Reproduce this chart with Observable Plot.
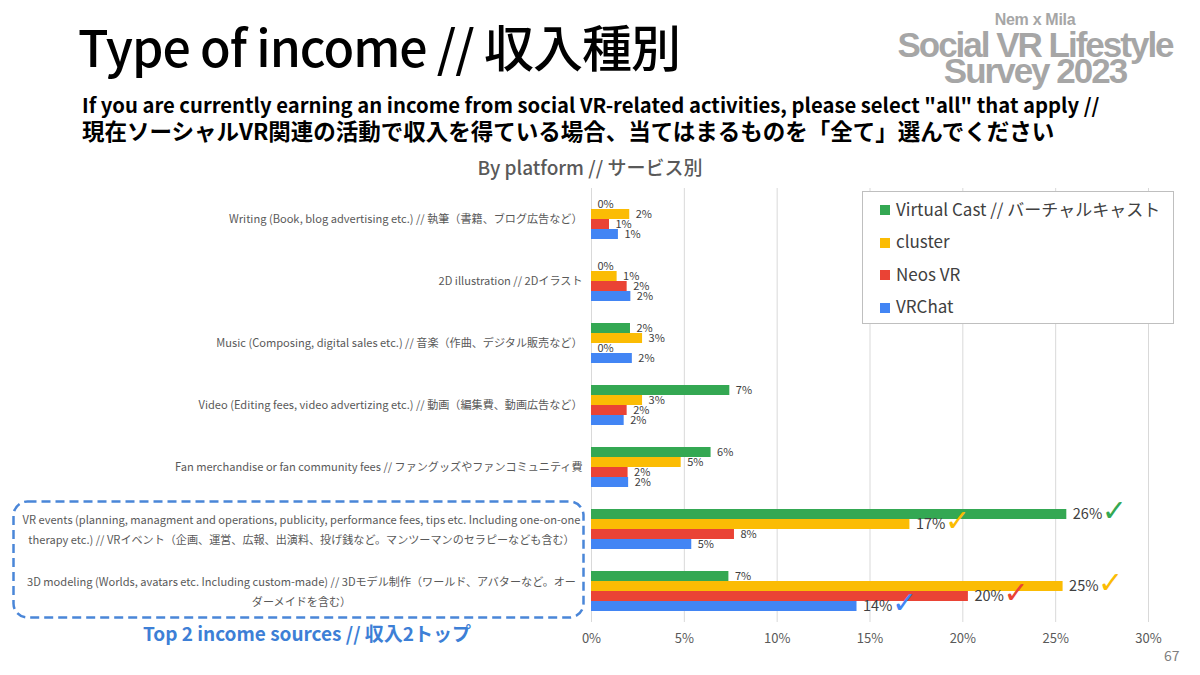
<!DOCTYPE html>
<html>
<head>
<meta charset="utf-8">
<script src="https://cdn.jsdelivr.net/npm/d3@7"></script>
<script src="https://cdn.jsdelivr.net/npm/@observablehq/plot@0.6"></script>
<style>
  html, body { margin: 0; padding: 0; background: #fff; }
  #page { position: relative; width: 1200px; height: 675px; overflow: hidden; background: #fff;
          font-family: "Noto Sans CJK JP", "Noto Sans", sans-serif; }
  .abs { position: absolute; white-space: nowrap; }
  #title { left: 78px; top: 20px; font-size: 50px; line-height: 1; font-weight: 500; color: #000; letter-spacing: -1px; }
  .sub { left: 82px; font-weight: 700; color: #000; line-height: 1; }
  #sub1 { top: 95px; font-size: 20.25px; }
  #sub2 { top: 119px; font-size: 22.5px; }
  #ctitle { left: 0; width: 1180px; text-align: center; top: 157px; font-size: 19px; line-height: 1; font-weight: 500; color: #595959; }
  #logo { left: 880px; top: 12px; width: 310px; text-align: center; color: #a6a6a6; font-family: "Liberation Sans", Arial, sans-serif; font-weight: 700; line-height: 1; }
  #logo .l1 { font-size: 16px; letter-spacing: -0.3px; }
  #logo .l2 { font-size: 35px; letter-spacing: -2px; margin-top: -1px; }
  #logo .l3 { font-size: 35px; letter-spacing: -2px; margin-top: -9px; }
  #chart { left: 0; top: 183px; }
  #legend { left: 862px; top: 191px; width: 310px; height: 131px; border: 1px solid #bfbfbf; background: #fff; }
  #legend .row { height: 32.5px; display: flex; align-items: center; padding-left: 17px; font-size: 17px; color: #404040; }
  #legend .sw { width: 10px; height: 10px; margin-right: 6px; margin-top: 4px; }
  #box { left: 12px; top: 500px; }
  #top2 { left: 12px; width: 590px; text-align: center; top: 623px; font-size: 19px; line-height: 1; font-weight: 700; color: #3d7fd6; }
  #pnum { left: 1164px; top: 645px; font-size: 14px; color: #7f7f7f; }
</style>
</head>
<body>
<div id="page">
  <div id="title" class="abs">Type of income // 収入種別</div>
  <div id="sub1" class="abs sub">If you are currently earning an income from social VR-related activities, please select "all" that apply //</div>
  <div id="sub2" class="abs sub">現在ソーシャルVR関連の活動で収入を得ている場合、当てはまるものを「全て」選んでください</div>
  <div id="logo" class="abs"><div class="l1">Nem x Mila</div><div class="l2">Social VR Lifestyle</div><div class="l3">Survey 2023</div></div>
  <div id="ctitle" class="abs">By platform // サービス別</div>
  <div id="chart" class="abs"></div>
  <div id="legend" class="abs"></div>
  <svg id="box" class="abs" width="574" height="120"><rect x="1.5" y="1.5" width="570" height="116" rx="14" ry="14" fill="none" stroke="#4a86d8" stroke-width="2.5" stroke-dasharray="9 5"/></svg>
  <div id="top2" class="abs">Top 2 income sources // 収入2トップ</div>
  <div id="pnum" class="abs">67</div>
</div>
<script>
// ---- data ----
const categories = ["Writing", "2D illustration", "Music", "Video", "Fan merchandise", "VR events", "3D modeling"];
const categoryLabels = [
  "Writing (Book, blog advertising etc.) // 執筆（書籍、ブログ広告など）",
  "2D illustration // 2Dイラスト",
  "Music (Composing, digital sales etc.) // 音楽（作曲、デジタル販売など）",
  "Video (Editing fees, video advertizing etc.) // 動画（編集費、動画広告など）",
  "Fan merchandise or fan community fees // ファングッズやファンコミュニティ費",
  "VR events (planning, managment and operations, publicity, performance fees, tips etc. Including one-on-one\ntherapy etc.) // VRイベント（企画、運営、広報、出演料、投げ銭など。マンツーマンのセラピーなども含む）",
  "3D modeling (Worlds, avatars etc. Including custom-made) // 3Dモデル制作（ワールド、アバターなど。オー\nダーメイドを含む）"
];
const platforms = ["Virtual Cast // バーチャルキャスト", "cluster", "Neos VR", "VRChat"];
const platformColors = ["#34a853", "#fbbc04", "#ea4335", "#4285f4"];
const virtualCast = [0, 0, 2.1, 7.45, 6.44, 25.6, 7.4];
const cluster     = [2.06, 1.38, 2.75, 2.75, 4.83, 17.15, 25.4];
const neosVR      = [0.97, 1.92, 0, 1.92, 1.97, 7.7, 20.3];
const vrChat      = [1.45, 2.12, 2.2, 1.76, 2.0, 5.4, 14.3];
const checked = [
  ["VR events", "Virtual Cast // バーチャルキャスト"],
  ["VR events", "cluster"],
  ["3D modeling", "cluster"],
  ["3D modeling", "Neos VR"],
  ["3D modeling", "VRChat"]
];
const xTicks = [0, 5, 10, 15, 20, 25, 30];

// ---- build table ----
const series = [virtualCast, cluster, neosVR, vrChat];
const rows = [];
categories.forEach((c, i) => platforms.forEach((p, j) => {
  rows.push({category: c, platform: p, value: series[j][i],
             top: checked.some(([cc, pp]) => cc === c && pp === p)});
}));
const catRows = categories.map((c, i) => ({category: c, label: categoryLabels[i], wrapped: categoryLabels[i].includes("\n")}));

const chart = Plot.plot({
  width: 1200,
  height: 477,
  marginLeft: 591,
  marginRight: 52,
  marginTop: 4,
  marginBottom: 37,
  style: {fontFamily: '"Noto Sans CJK JP", "Noto Sans", sans-serif', background: "transparent"},
  x: {domain: [0, 30], axis: null},
  y: {domain: platforms, paddingInner: 0, paddingOuter: 0.94, axis: null},
  fy: {domain: categories, padding: 0, axis: null},
  color: {domain: platforms, range: platformColors},
  marks: [
    Plot.gridX(xTicks, {stroke: "#d9d9d9", strokeOpacity: 1, strokeWidth: 1}),
    Plot.axisX(xTicks, {tickFormat: d => d + "%", tickSize: 0, tickPadding: 11, fontSize: 13, color: "#595959", label: null}),
    Plot.barX(rows, {x: "value", y: "platform", fy: "category", fill: "platform"}),
    Plot.text(rows.filter(d => !d.top), {x: "value", y: "platform", fy: "category",
      text: d => Math.round(d.value) + "%", dx: 6, textAnchor: "start", fontSize: 11, fill: "#404040"}),
    Plot.text(rows.filter(d => d.top), {x: "value", y: "platform", fy: "category",
      text: d => Math.round(d.value) + "%", dx: 6, textAnchor: "start", fontSize: 14.5, fill: "#404040"}),
    Plot.text(rows.filter(d => d.top), {x: "value", y: "platform", fy: "category",
      text: () => "✓", dx: 35, dy: -3, textAnchor: "start", fontSize: 30, fontWeight: "bold", fill: "platform", fontFamily: "DejaVu Sans"}),
    Plot.text(catRows.filter(d => !d.wrapped), {fy: "category", text: "label", frameAnchor: "left",
      textAnchor: "end", dx: -9, fontSize: 11.1, fill: "#595959"}),
    Plot.text(catRows.filter(d => d.wrapped), {fy: "category", text: "label", frameAnchor: "left",
      textAnchor: "middle", dx: -290, dy: -2, lineHeight: 1.8, fontSize: 11.1, fill: "#595959"})
  ]
});
document.getElementById("chart").appendChild(chart);

// ---- legend ----
const legend = document.getElementById("legend");
platforms.forEach((p, i) => {
  const row = document.createElement("div");
  row.className = "row";
  const sw = document.createElement("span");
  sw.className = "sw";
  sw.style.background = platformColors[i];
  row.appendChild(sw);
  row.appendChild(document.createTextNode(p));
  legend.appendChild(row);
});
</script>
</body>
</html>
